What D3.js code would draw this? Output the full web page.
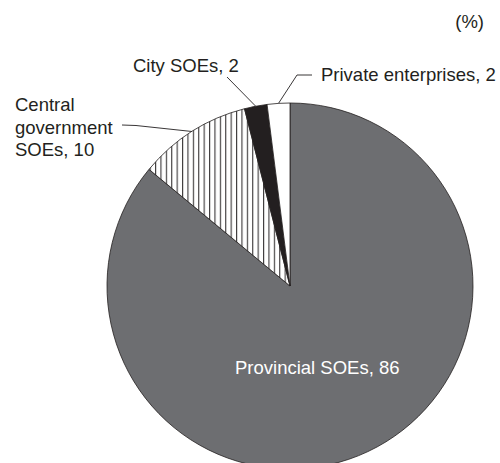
<!DOCTYPE html>
<html>
<head>
<meta charset="utf-8">
<script src="https://cdn.jsdelivr.net/npm/d3@7/dist/d3.min.js"></script>
<style>
  html, body { margin: 0; padding: 0; background: #ffffff; }
  svg { display: block; }
  text { font-family: "Liberation Sans", Arial, Helvetica, sans-serif; font-size: 18.5px; fill: #231f20; }
</style>
</head>
<body>
<svg id="chart" width="500" height="463"></svg>
<script>
// Ownership shares, in percent, clockwise from 12 o'clock
const categories = ["Provincial SOEs", "Central government SOEs", "City SOEs", "Private enterprises"];
const shares = [86, 10, 2, 2];
const unitLabel = "(%)";

const W = 500, H = 463;
const cx = 290, cy = 286, R = 183;
const ink = "#231f20";

const svg = d3.select("#chart");

// vertical hatching for the central-government slice
const defs = svg.append("defs");
const pat = defs.append("pattern")
  .attr("id", "vhatch")
  .attr("patternUnits", "userSpaceOnUse")
  .attr("width", 5.4).attr("height", 10);
pat.append("rect").attr("width", 5.4).attr("height", 10).attr("fill", "#ffffff");
pat.append("line").attr("x1", 0.6).attr("x2", 0.6).attr("y1", 0).attr("y2", 10)
  .attr("stroke", ink).attr("stroke-width", 1);

const fills = d3.scaleOrdinal()
  .domain(categories)
  .range(["#6d6e71", "url(#vhatch)", ink, "#ffffff"]);

const pie = d3.pie().sort(null).value(d => d.value);
const arcs = pie(categories.map((c, i) => ({ name: c, value: shares[i] })));
const arc = d3.arc().innerRadius(0).outerRadius(R);

const g = svg.append("g").attr("transform", `translate(${cx},${cy})`);
g.selectAll("path.slice")
  .data(arcs)
  .join("path")
  .attr("class", "slice")
  .attr("d", arc)
  .attr("fill", d => fills(d.data.name))
  .attr("stroke", ink)
  .attr("stroke-width", 0.8)
  .attr("stroke-linejoin", "round");

// point on the rim at the middle of a slice (absolute coordinates)
function rimPoint(d) {
  const a = (d.startAngle + d.endAngle) / 2;
  return [cx + R * Math.sin(a), cy - R * Math.cos(a)];
}

// label placement for each slice: text lines, anchor, and leader path elbows
const labelLayout = {
  "Provincial SOEs": { lines: d => [`${d.data.name}, ${d.data.value}`], x: 235, y: 374, dy: 0, color: "#ffffff", leader: null },
  "Central government SOEs": { lines: d => ["Central", "government", `SOEs, ${d.data.value}`], x: 15, y: 111, dy: 22.5, color: ink, leader: [[122, 125], [136, 125.5]] },
  "City SOEs": { lines: d => [`${d.data.name}, ${d.data.value}`], x: 133, y: 72, dy: 0, color: ink, leader: [[227, 77]] },
  "Private enterprises": { lines: d => [`${d.data.name}, ${d.data.value}`], x: 321, y: 81, dy: 0, color: ink, leader: [[312, 75], [297, 75]] }
};

const line = d3.line();
arcs.forEach(d => {
  const L = labelLayout[d.data.name];
  if (L.leader) {
    const pts = L.leader.concat([rimPoint(d)]);
    svg.append("path")
      .attr("d", line(pts))
      .attr("fill", "none")
      .attr("stroke", ink)
      .attr("stroke-width", 0.9);
  }
  const t = svg.append("text").attr("x", L.x).attr("y", L.y).style("fill", L.color);
  L.lines(d).forEach((s, i) => {
    t.append("tspan").attr("x", L.x).attr("y", L.y + i * L.dy).text(s);
  });
});

svg.append("text")
  .attr("x", 484).attr("y", 28)
  .attr("text-anchor", "end")
  .text(unitLabel);
</script>
</body>
</html>
